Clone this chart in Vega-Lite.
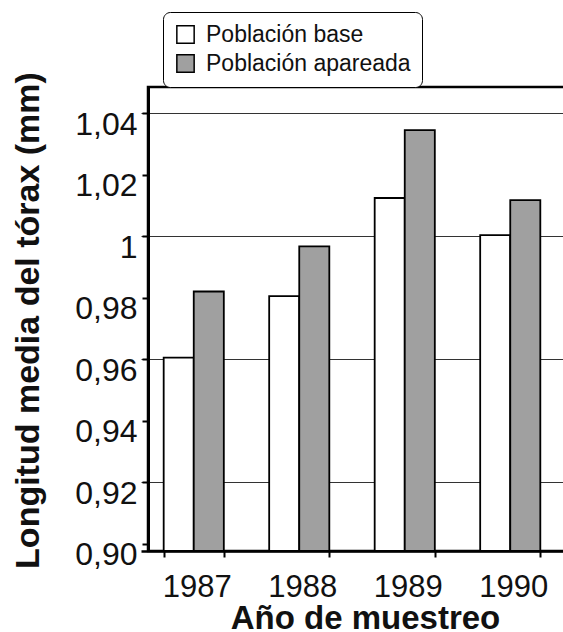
{
  "$schema": "https://vega.github.io/schema/vega-lite/v6.json",
  "width": 417,
  "height": 464,
  "autosize": {"type": "none"},
  "padding": {"left": 148, "top": 87, "right": 0, "bottom": 81},
  "background": "white",
  "config": {
    "font": "Liberation Sans",
    "view": {"stroke": "black", "strokeWidth": 2.5}
  },
  "data": {
    "values": [
      {"year": "1987", "grupo": "Población base", "value": 0.9605, "base": 0.8976},
      {"year": "1987", "grupo": "Población apareada", "value": 0.982, "base": 0.8976},
      {"year": "1988", "grupo": "Población base", "value": 0.9805, "base": 0.8976},
      {"year": "1988", "grupo": "Población apareada", "value": 0.9967, "base": 0.8976},
      {"year": "1989", "grupo": "Población base", "value": 1.0124, "base": 0.8976},
      {"year": "1989", "grupo": "Población apareada", "value": 1.0345, "base": 0.8976},
      {"year": "1990", "grupo": "Población base", "value": 1.0003, "base": 0.8976},
      {"year": "1990", "grupo": "Población apareada", "value": 1.0117, "base": 0.8976}
    ]
  },
  "mark": {"type": "bar", "stroke": "black", "strokeWidth": 1.8},
  "encoding": {
    "x": {
      "field": "year",
      "type": "nominal",
      "scale": {"range": [-7, 415], "paddingInner": 0.43, "paddingOuter": 0.215},
      "axis": {
        "title": "Año de muestreo",
        "labelAngle": 0,
        "labelFont": "Liberation Sans",
        "labelFontSize": 31,
        "labelColor": "#111",
        "labelPadding": 15,
        "labelOffset": 3,
        "tickBand": "extent",
        "tickSize": 6,
        "tickWidth": 2,
        "tickColor": "black",
        "domainColor": "black",
        "domainWidth": 2.5,
        "grid": false,
        "titleFont": "Liberation Sans",
        "titleFontSize": 33,
        "titleFontWeight": "bold",
        "titleColor": "#111",
        "titleX": 217,
        "titleY": 77,
        "titleAlign": "center",
        "titleBaseline": "alphabetic"
      }
    },
    "xOffset": {
      "field": "grupo",
      "type": "nominal",
      "sort": ["Población base", "Población apareada"],
      "scale": {"paddingInner": 0, "paddingOuter": 0}
    },
    "y": {
      "field": "value",
      "type": "quantitative",
      "scale": {"domain": [0.8976, 1.0485], "zero": false, "nice": false},
      "axis": {
        "values": [0.9, 0.92, 0.94, 0.96, 0.98, 1, 1.02, 1.04],
        "labelExpr": "datum.value == 1 ? '1' : replace(format(datum.value, '.2f'), '.', ',')",
        "labelFont": "Liberation Sans",
        "labelFontSize": 32,
        "labelColor": "#111",
        "labelOffset": 11,
        "labelPadding": 5,
        "tickSize": 6,
        "tickWidth": 2,
        "tickColor": "black",
        "domainColor": "black",
        "domainWidth": 3,
        "grid": true,
        "gridColor": "#333",
        "gridWidth": 1.2,
        "gridOpacity": {"condition": {"test": "round(datum.value * 100) % 4 == 0", "value": 1}, "value": 0},
        "title": "Longitud media del tórax (mm)",
        "titleFont": "Liberation Sans",
        "titleFontSize": 34,
        "titleFontWeight": "bold",
        "titleColor": "#111",
        "titleAngle": -90,
        "titleX": -110,
        "titleY": 233,
        "titleAlign": "center",
        "titleBaseline": "alphabetic",
        "titleLimit": 600
      }
    },
    "y2": {"field": "base"},
    "fill": {
      "field": "grupo",
      "type": "nominal",
      "sort": ["Población base", "Población apareada"],
      "scale": {"domain": ["Población base", "Población apareada"], "range": ["white", "#a0a0a0"]},
      "legend": {
        "orient": "none",
        "legendX": 15,
        "legendY": -75,
        "title": null,
        "labelFont": "Liberation Sans",
        "labelFontSize": 23,
        "labelColor": "#111",
        "labelLimit": 400,
        "symbolType": "square",
        "symbolSize": 300,
        "symbolStrokeColor": "black",
        "symbolStrokeWidth": 1.5,
        "strokeColor": "black",
        "cornerRadius": 7,
        "fillColor": "white",
        "padding": 11,
        "rowPadding": 4,
        "labelOffset": 9
      }
    }
  }
}
